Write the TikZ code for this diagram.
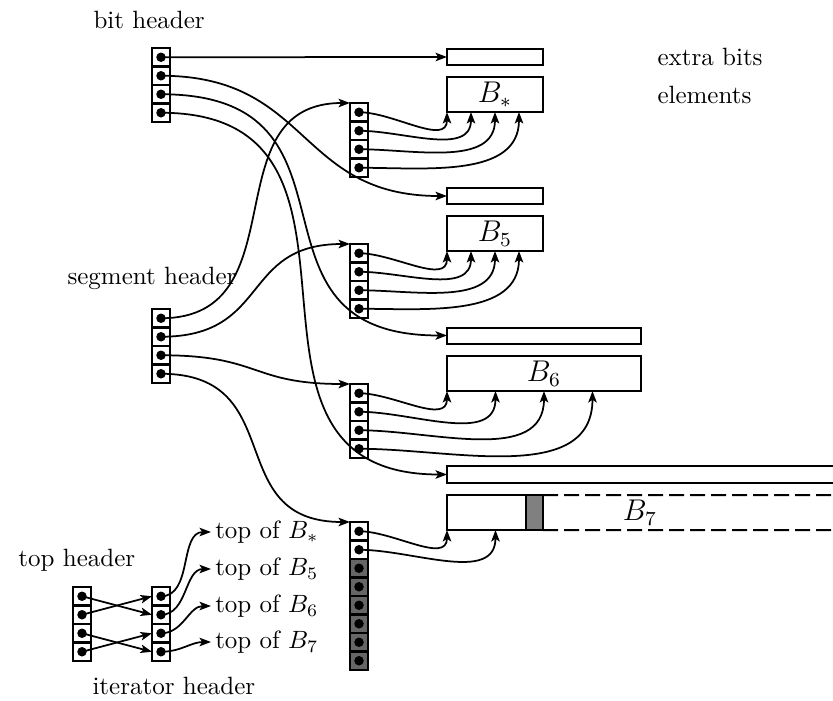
\documentclass[tikz,border=0pt]{standalone}
\usetikzlibrary{arrows.meta,calc}
\newcommand{\mkcol}[5]{%
  \foreach \i in {1,...,#4}{%
    \pgfmathtruncatemacro\gr{\i>#5 ? 1 : 0}%
    \ifnum\gr=1 \def\cf{black!60}\else\def\cf{white}\fi
    \node[cellbox, fill=\cf] (#1\i) at (#2,{#3+(\i-0.5)*18.5}) {};
    \fill (#1\i.center) circle[radius=1.9pt];
  }%
}
\begin{document}
\begin{tikzpicture}[x=0.4pt,y=-0.4pt,
  conn/.style={line width=0.7pt,-{Stealth[length=4.6pt,width=3.4pt,inset=1.1pt]}},
  cellbox/.style={draw,line width=1.1pt,minimum width=7.2pt,minimum height=7.4pt,inner sep=0pt,outer sep=0pt},
  box/.style={draw,line width=0.8pt,inner sep=0pt,outer sep=0pt},
  lbl/.style={inner sep=0pt,anchor=base west},
  toplbl/.style={anchor=west,inner sep=1.5pt},
]
\useasboundingbox (0,0) rectangle (833,700);

% labels
\node[lbl] (lbit) at (93,28) {bit header};
\node[lbl] (lseg) at (67,284) {segment header};
\node[lbl] (ltop) at (18,566) {top header};
\node[lbl] (lit) at (92,694) {iterator header};
\node[lbl] (lex) at (657,65) {extra bits};
\node[lbl] (lel) at (657,103) {elements};

% cell columns
\mkcol{bh}{161}{48}{4}{4}
\mkcol{sh}{161}{309}{4}{4}
\mkcol{ga}{359}{103}{4}{4}
\mkcol{gb}{359}{244}{4}{4}
\mkcol{gc}{359}{384}{4}{4}
\mkcol{gd}{359}{522}{8}{2}
\mkcol{th}{82}{587}{4}{4}
\mkcol{ih}{161}{587}{4}{4}

% boxes
\node[box,minimum width=38.4pt,minimum height=6.4pt] (er1) at (495,57) {};
\node[box,minimum width=38.4pt,minimum height=14pt,font=\large] (bs) at (495,94.5) {$B_*$};
\node[box,minimum width=38.4pt,minimum height=6.4pt] (er2) at (495,196) {};
\node[box,minimum width=38.4pt,minimum height=14pt,font=\large] (b5) at (495,233.5) {$B_5$};
\node[box,minimum width=77.6pt,minimum height=6.4pt] (er3) at (544,335.5) {};
\node[box,minimum width=77.6pt,minimum height=14pt,font=\large] (b6) at (544,373.5) {$B_6$};
\draw[line width=0.8pt] (833,466) -- (447,466) -- (447,483) -- (833,483);
\coordinate (er4) at (447,474.5);
\node[box,minimum width=31.6pt,minimum height=14pt] (b7) at (486.5,512.5) {};
\node[box,fill=black!50,minimum width=6.8pt,minimum height=14pt] (b7g) at (534.5,512.5) {};
\draw[line width=0.8pt,dash pattern=on 6pt off 2.4pt] (b7g.north east) -- (833,495);
\draw[line width=0.8pt,dash pattern=on 6pt off 2.4pt] (b7g.south east) -- (833,530);
\node[font=\large,inner sep=0pt] (b7l) at (640,512.5) {$B_7$};

% group arrows
\foreach \k in {1,...,4}{
  \draw[conn] (ga\k.center) to[out=0,in=-90] ($(bs.south west)+({(\k-1)*24},0)$);
  \draw[conn] (gb\k.center) to[out=0,in=-90] ($(b5.south west)+({(\k-1)*24},0)$);
  \draw[conn] (gc\k.center) to[out=0,in=-90] ($(b6.south west)+({(\k-1)*48.5},0)$);
}
\foreach \k in {1,2}{
  \draw[conn] (gd\k.center) to[out=0,in=-90] ($(b7.south west)+({(\k-1)*48.5},0)$);
}

% bit header
\draw[conn] (bh1.center) -- (er1.west);
\draw[conn] (bh2.center) .. controls +(150,0) and +(-150,0) .. (er2.west);
\draw[conn] (bh3.center) .. controls +(220,0) and +(-220,0) .. (er3.west);
\draw[conn] (bh4.center) .. controls +(250,0) and +(-250,0) .. (er4);

% segment header
\draw[conn] (sh1.center) .. controls +(140,0) and +(-140,0) .. (ga1.north west);
\draw[conn] (sh2.center) .. controls +(110,0) and +(-110,0) .. (gb1.north west);
\draw[conn] (sh3.center) .. controls +(100,0) and +(-100,0) .. (gc1.north west);
\draw[conn] (sh4.center) .. controls +(130,0) and +(-130,0) .. (gd1.north west);

% top header -> iterator header
\draw[conn] (th1.center) -- (ih2.west);
\draw[conn] (th2.center) -- (ih1.west);
\draw[conn] (th3.center) -- (ih4.west);
\draw[conn] (th4.center) -- (ih3.west);

% top of labels
\node[toplbl] (tb1) at (211,532) {top of $B_*$};
\node[toplbl] (tb2) at (211,569) {top of $B_5$};
\node[toplbl] (tb3) at (211,606) {top of $B_6$};
\node[toplbl] (tb4) at (211,642) {top of $B_7$};
\foreach \k in {1,...,4}{
  \draw[conn] (ih\k.center) to[out=0,in=180] (tb\k.west);
}
\end{tikzpicture}
\end{document}
